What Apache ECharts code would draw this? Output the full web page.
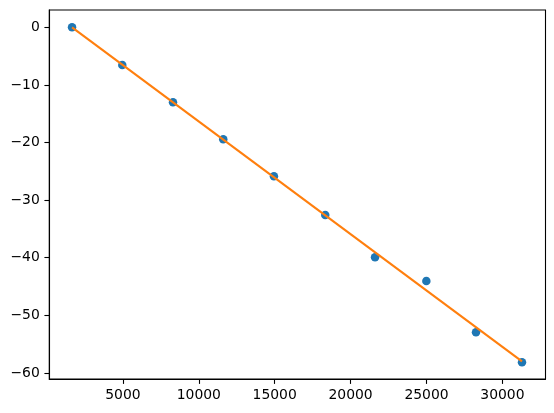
<!DOCTYPE html>
<html>
<head>
<meta charset="utf-8">
<script src="https://cdn.jsdelivr.net/npm/echarts@6/dist/echarts.min.js"></script>
<style>
html,body{margin:0;padding:0;background:#fff;}
#c{width:554px;height:413px;}
</style>
</head>
<body>
<div id="c"></div>
<script>
// Scatter data
var pointX = [1650, 4960, 8300, 11610, 14950, 18330, 21610, 24990, 28260, 31290];
var pointY = [0.0, -6.54, -13.02, -19.44, -25.86, -32.58, -39.92, -44.03, -52.93, -58.14];
// Fitted line endpoints
var fitX = [1650, 31290];
var fitY = [0.0, -58.0];
// Tick labels
var xTicks = [5000, 10000, 15000, 20000, 25000, 30000];
var yTicks = [0, -10, -20, -30, -40, -50, -60];

var scatterData = pointX.map(function (x, i) { return [x, pointY[i]]; });
var lineData = fitX.map(function (x, i) { return [x, fitY[i]]; });

function fmt(v) { return String(v).replace('-', '\u2212'); }

var font = 'DejaVu Sans';
var chart = echarts.init(document.getElementById('c'), null, { renderer: 'canvas' });
chart.setOption({
  animation: false,
  backgroundColor: '#ffffff',
  grid: {
    left: 49.3, right: 8.5, top: 10, bottom: 34,
    show: true, borderColor: '#000', borderWidth: 1.1, backgroundColor: 'transparent'
  },
  xAxis: {
    type: 'value', min: 152, max: 32839,
    splitLine: { show: false },
    axisLine: { show: true, onZero: false, lineStyle: { color: '#000', width: 1.1 } },
    axisTick: { show: true, length: 4.9, inside: false, customValues: xTicks, lineStyle: { color: '#000', width: 1.1 } },
    axisLabel: { show: true, customValues: xTicks, margin: 9.5, color: '#000', fontFamily: font, fontSize: 13.9, formatter: fmt }
  },
  yAxis: {
    type: 'value', min: -61.05, max: 3.0,
    splitLine: { show: false },
    axisLine: { show: true, onZero: false, lineStyle: { color: '#000', width: 1.1 } },
    axisTick: { show: true, length: 4.9, inside: false, customValues: yTicks, lineStyle: { color: '#000', width: 1.1 } },
    axisLabel: { show: true, customValues: yTicks, margin: 9.5, color: '#000', fontFamily: font, fontSize: 13.9, formatter: fmt }
  },
  series: [
    {
      type: 'scatter', data: scatterData, symbol: 'circle', symbolSize: 8.5,
      itemStyle: { color: '#1f77b4', opacity: 1 }, z: 2
    },
    {
      type: 'line', data: lineData, showSymbol: false, symbol: 'none',
      lineStyle: { color: '#ff7f0e', width: 2.1 }, z: 3
    }
  ]
});
</script>
</body>
</html>
